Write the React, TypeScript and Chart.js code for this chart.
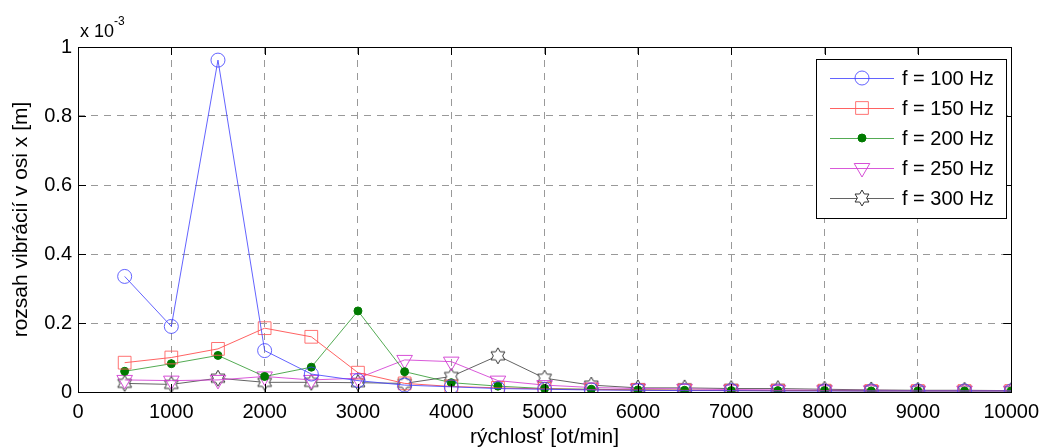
import React, { useEffect, useRef } from "react";
import { Chart, registerables } from "chart.js";
import { drawPoint } from "chart.js/helpers";

Chart.register(...registerables);

const speeds = [500, 1000, 1500, 2000, 2500, 3000, 3500, 4000, 4500, 5000, 5500, 6000, 6500, 7000, 7500, 8000, 8500, 9000, 9500, 10000];
// values in units of 1e-3 m
const f100 = [0.335, 0.19, 0.962, 0.12, 0.052, 0.033, 0.02, 0.015, 0.01, 0.008, 0.006, 0.005, 0.004, 0.004, 0.003, 0.003, 0.003, 0.003, 0.003, 0.003];
const f150 = [0.085, 0.1, 0.125, 0.185, 0.16, 0.056, 0.025, 0.016, 0.012, 0.009, 0.007, 0.006, 0.005, 0.004, 0.004, 0.004, 0.003, 0.003, 0.003, 0.003];
const f200 = [0.06, 0.082, 0.106, 0.045, 0.072, 0.235, 0.059, 0.027, 0.017, 0.01, 0.008, 0.006, 0.005, 0.004, 0.004, 0.004, 0.003, 0.003, 0.003, 0.003];
const f250 = [0.035, 0.033, 0.035, 0.045, 0.035, 0.04, 0.093, 0.088, 0.033, 0.02, 0.013, 0.01, 0.009, 0.007, 0.006, 0.005, 0.005, 0.004, 0.004, 0.004];
const f300 = [0.025, 0.022, 0.04, 0.028, 0.028, 0.027, 0.025, 0.045, 0.105, 0.04, 0.02, 0.012, 0.012, 0.01, 0.01, 0.008, 0.006, 0.005, 0.005, 0.004];
const seriesLabels = ["f = 100 Hz", "f = 150 Hz", "f = 200 Hz", "f = 250 Hz", "f = 300 Hz"];
const xTicks = [0, 1000, 2000, 3000, 4000, 5000, 6000, 7000, 8000, 9000, 10000];
const yTicks = [0, 0.2, 0.4, 0.6, 0.8, 1];
const xTitle = "rýchlosť [ot/min]";
const yTitle = "rozsah vibrácií v osi x [m]";

const FONT = "'Liberation Sans', Arial, sans-serif";

function hexagram(size: number, color: string): HTMLCanvasElement {
  const c = document.createElement("canvas");
  c.width = size * 2 + 4;
  c.height = size * 2 + 4;
  const ctx = c.getContext("2d")!;
  const cx = c.width / 2, cy = c.height / 2;
  const R = size, r = size / Math.sqrt(3);
  ctx.beginPath();
  for (let i = 0; i < 12; i++) {
    const a = -Math.PI / 2 + (i * Math.PI) / 6;
    const rad = i % 2 === 0 ? R : r;
    const x = cx + rad * Math.cos(a), y = cy + rad * Math.sin(a);
    if (i === 0) ctx.moveTo(x, y); else ctx.lineTo(x, y);
  }
  ctx.closePath();
  ctx.fillStyle = "#ffffff";
  ctx.fill();
  ctx.strokeStyle = color;
  ctx.lineWidth = 1;
  ctx.stroke();
  return c;
}

export default function App() {
  const ref = useRef<HTMLCanvasElement>(null);
  useEffect(() => {
    const star = hexagram(8, "#333333");
    const mk = (vals: number[]) => vals.map((v, i) => ({ x: speeds[i], y: v }));
    const datasets: any[] = [
      { label: seriesLabels[0], data: mk(f100), borderColor: "rgba(60,60,255,0.8)", pointBorderColor: "rgba(60,60,255,0.8)", pointBackgroundColor: "rgba(0,0,0,0)", pointStyle: "circle", pointRadius: 7, borderWidth: 1, pointBorderWidth: 1 },
      { label: seriesLabels[1], data: mk(f150), borderColor: "rgba(255,70,70,0.85)", pointBorderColor: "rgba(255,90,90,0.85)", pointBackgroundColor: "rgba(0,0,0,0)", pointStyle: "rect", pointRadius: 9, borderWidth: 1, pointBorderWidth: 1 },
      { label: seriesLabels[2], data: mk(f200), borderColor: "rgba(40,150,40,0.8)", pointBorderColor: "#007a00", pointBackgroundColor: "#007a00", pointStyle: "circle", pointRadius: 4, borderWidth: 1, pointBorderWidth: 1 },
      { label: seriesLabels[3], data: mk(f250), borderColor: "rgba(210,60,210,0.85)", pointBorderColor: "rgba(210,60,210,0.9)", pointBackgroundColor: "rgba(0,0,0,0)", pointStyle: "triangle", rotation: 180, pointRadius: 9, borderWidth: 1, pointBorderWidth: 1 },
      { label: seriesLabels[4], data: mk(f300), borderColor: "rgba(60,60,60,0.8)", pointBorderColor: "#333", pointBackgroundColor: "rgba(0,0,0,0)", pointStyle: star, pointRadius: 8, borderWidth: 1, pointBorderWidth: 1 },
    ];
    datasets.forEach((d) => { d.showLine = true; d.pointHoverRadius = d.pointRadius; });

    const overlay = {
      id: "overlay",
      afterDraw(chart: any) {
        const { ctx, chartArea: a } = chart;
        ctx.save();
        // frame
        ctx.strokeStyle = "#000";
        ctx.lineWidth = 1;
        ctx.strokeRect(Math.round(a.left) + 0.5, Math.round(a.top) + 0.5, Math.round(a.right - a.left), Math.round(a.bottom - a.top));
        // tick marks inward
        const xs = chart.scales.x, ys = chart.scales.y;
        ctx.beginPath();
        xTicks.forEach((t) => {
          const px = Math.round(xs.getPixelForValue(t)) + 0.5;
          ctx.moveTo(px, a.bottom); ctx.lineTo(px, a.bottom - 8);
          ctx.moveTo(px, a.top); ctx.lineTo(px, a.top + 8);
        });
        yTicks.forEach((t) => {
          const py = Math.round(ys.getPixelForValue(t)) + 0.5;
          ctx.moveTo(a.left, py); ctx.lineTo(a.left + 8, py);
          ctx.moveTo(a.right, py); ctx.lineTo(a.right - 8, py);
        });
        ctx.stroke();
        ctx.fillStyle = "#000";
        // axis titles
        ctx.font = `21px ${FONT}`;
        ctx.textAlign = "center";
        ctx.textBaseline = "middle";
        ctx.fillText(xTitle, (a.left + a.right) / 2, 437);
        ctx.save();
        ctx.translate(21, (a.top + a.bottom) / 2);
        ctx.rotate(-Math.PI / 2);
        ctx.fillText(yTitle, 0, 0);
        ctx.restore();
        // exponent
        ctx.font = `18px ${FONT}`;
        ctx.textBaseline = "alphabetic";
        ctx.textAlign = "left";
        ctx.fillText("x 10", 80, 37);
        ctx.font = `12px ${FONT}`;
        ctx.fillText("-3", 114, 25);
        // legend
        const lx = 816, ly = 59, lw = 190, lh = 159;
        ctx.fillStyle = "#fff";
        ctx.fillRect(lx, ly, lw, lh);
        ctx.strokeStyle = "#000";
        ctx.strokeRect(lx + 0.5, ly + 0.5, lw, lh);
        chart.data.datasets.forEach((d: any, i: number) => {
          const y = 78 + i * 30;
          ctx.strokeStyle = d.borderColor;
          ctx.lineWidth = 1;
          ctx.beginPath();
          ctx.moveTo(830, y + 0.5); ctx.lineTo(894, y + 0.5);
          ctx.stroke();
          ctx.strokeStyle = d.pointBorderColor;
          ctx.fillStyle = d.pointBackgroundColor;
          drawPoint(ctx, { pointStyle: d.pointStyle, rotation: d.rotation || 0, radius: d.pointRadius, borderWidth: 1 }, 862, y);
          ctx.fillStyle = "#000";
          ctx.font = `20px ${FONT}`;
          ctx.textAlign = "left";
          ctx.textBaseline = "middle";
          ctx.fillText(d.label, 902, y + 1);
        });
        ctx.restore();
      },
    };

    const chart = new Chart(ref.current!, {
      type: "scatter",
      data: { datasets },
      plugins: [overlay],
      options: {
        animation: false,
        responsive: false,
        layout: { padding: { top: 47, right: 31, left: 0, bottom: 0 } },
        plugins: { legend: { display: false }, tooltip: { enabled: false } },
        scales: {
          x: {
            type: "linear", min: 0, max: 10000,
            afterBuildTicks: (s: any) => { s.ticks = xTicks.map((v) => ({ value: v })); },
            afterFit: (s: any) => { s.height = 55; },
            ticks: { color: "#000", font: { family: FONT, size: 20 }, padding: 8, maxRotation: 0, callback: (v: any) => String(v) },
            grid: { color: "#999999", drawTicks: false, tickLength: 0, lineWidth: 1 },
            border: { display: false, dash: [7, 6] },
            title: { display: false },
          },
          y: {
            type: "linear", min: 0, max: 1,
            afterBuildTicks: (s: any) => { s.ticks = yTicks.map((v) => ({ value: v })); },
            afterFit: (s: any) => { s.width = 78; },
            ticks: { color: "#000", font: { family: FONT, size: 20 }, padding: 6, callback: (v: any) => String(Math.round(v * 10) / 10) },
            grid: { color: "#999999", drawTicks: false, tickLength: 0, lineWidth: 1 },
            border: { display: false, dash: [7, 6] },
            title: { display: false },
          },
        },
      } as any,
    });
    return () => chart.destroy();
  }, []);
  return (
    <div style={{ position: "fixed", left: 0, top: 0, width: 1047, height: 447, background: "#fff" }}>
      <canvas ref={ref} width={1047} height={447} style={{ width: 1047, height: 447 }} />
    </div>
  );
}
